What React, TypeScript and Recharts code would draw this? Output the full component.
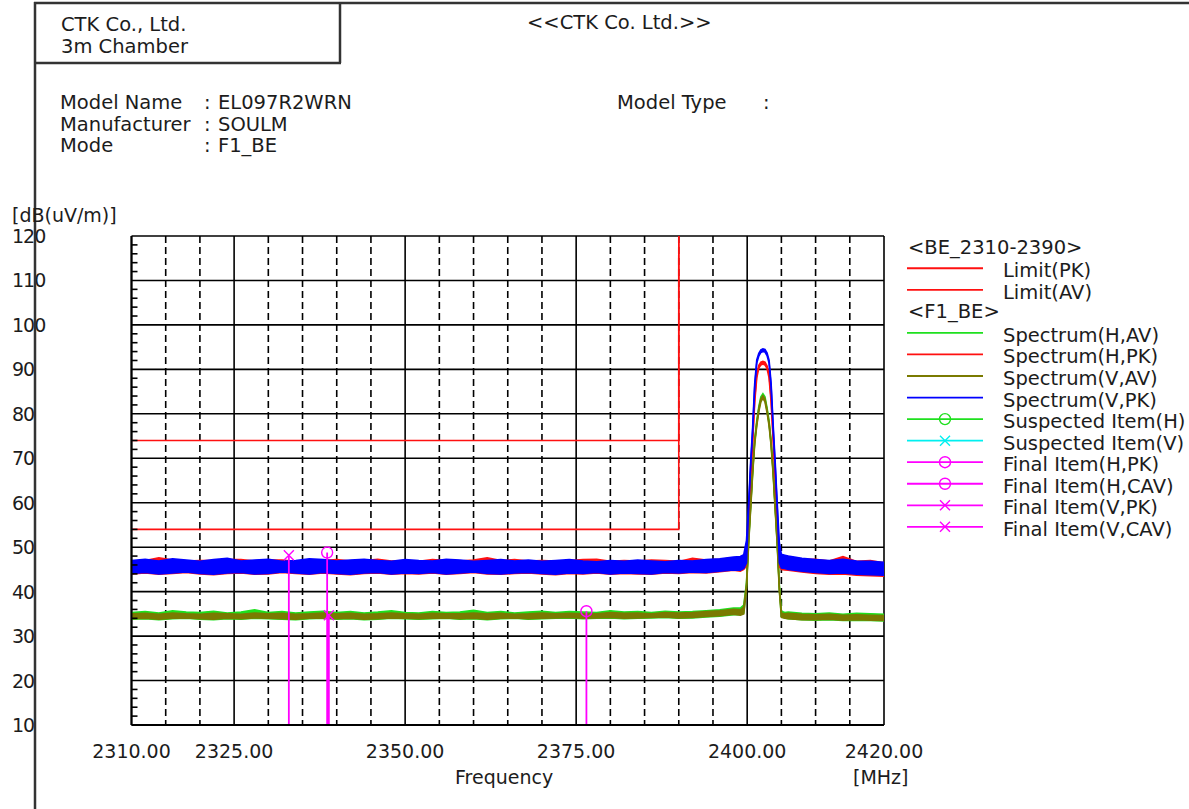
import React from "react";
import { ComposedChart, Area, Line, XAxis, YAxis, CartesianGrid } from "recharts";

// sweep points (MHz), denser around the 2402 MHz carrier
const freqMHz = [
  2310, 2312, 2314, 2316, 2318, 2320, 2322, 2324, 2326, 2328,
  2330, 2332, 2334, 2336, 2338, 2340, 2342, 2344, 2346, 2348,
  2350, 2352, 2354, 2356, 2358, 2360, 2362, 2364, 2366, 2368,
  2370, 2372, 2374, 2376, 2378, 2380, 2382, 2384, 2386, 2388,
  2390, 2392, 2394, 2396, 2398,
  2399, 2399.5, 2399.9, 2400.2, 2400.5, 2400.8, 2401.1, 2401.4, 2401.7, 2402,
  2402.3, 2402.6, 2402.9, 2403.2, 2403.5, 2403.8, 2404.1, 2404.4, 2404.7, 2405, 2405.5,
  2406, 2408, 2410, 2412, 2414, 2416, 2418, 2420,
];

// Spectrum(H,AV) - low / high edge of the trace
const hAvLo = [
  33.8, 33.9, 33.7, 33.9, 34.0, 33.8, 33.7, 33.9, 33.8, 34.0,
  33.9, 33.8, 33.7, 33.9, 34.0, 33.8, 33.9, 33.7, 33.8, 34.0,
  33.9, 33.8, 33.9, 34.0, 33.8, 33.9, 33.7, 33.9, 34.0, 33.8,
  33.9, 34.0, 34.1, 33.9, 34.0, 34.1, 33.9, 34.0, 34.1, 34.2,
  34.0, 34.1, 34.3, 34.5, 34.8,
  34.8, 35.2, 41.0, 50.8, 58.8, 66.8, 73.6, 77.7, 80.9, 83.1,
  83.9, 83.1, 80.7, 77.7, 73.2, 66.6, 58.6, 50.6, 40.6, 34.4, 34.1,
  33.9, 33.7, 33.6, 33.7, 33.5, 33.6, 33.5, 33.4,
];
const hAvHi = [
  35.3, 35.5, 35.2, 35.7, 35.4, 35.3, 35.6, 35.2, 35.4, 35.9,
  35.3, 35.5, 35.2, 35.4, 35.6, 35.3, 35.5, 35.2, 35.4, 35.7,
  35.3, 35.2, 35.5, 35.3, 35.4, 35.8, 35.3, 35.5, 35.2, 35.4,
  35.6, 35.3, 35.5, 35.4, 35.3, 35.7, 35.4, 35.5, 35.3, 35.6,
  35.4, 35.5, 35.7, 35.9, 36.3,
  36.3, 37.0, 42.0, 51.8, 59.7, 67.7, 74.3, 78.4, 81.6, 83.8,
  84.5, 83.8, 81.4, 78.4, 73.9, 67.4, 59.4, 51.4, 41.5, 35.6, 35.3,
  35.4, 35.1, 35.0, 35.2, 34.9, 35.1, 35.0, 34.9,
];

// Spectrum(H,PK)
const hPkLo = [
  44.0, 44.2, 43.9, 44.1, 44.3, 44.0, 43.8, 44.1, 44.2, 43.9,
  44.0, 44.3, 44.1, 43.9, 44.2, 44.0, 43.8, 44.1, 44.2, 43.9,
  44.1, 44.0, 44.2, 43.9, 44.1, 44.3, 44.0, 43.9, 44.1, 44.2,
  44.0, 43.8, 44.1, 44.0, 44.2, 43.9, 44.1, 44.0, 43.9, 44.2,
  44.1, 44.3, 44.2, 44.5, 44.8,
  44.6, 45.0, 45.8, 55.6, 65.5, 73.5, 82.6, 88.1, 90.3, 91.0,
  91.2, 91.0, 90.2, 88.1, 82.6, 74.0, 65.5, 56.0, 45.6, 45.0, 44.9,
  44.8, 44.4, 44.1, 43.9, 44.0, 43.7, 43.6, 43.5,
];
const hPkHi = [
  46.8, 47.0, 47.6, 47.1, 46.9, 47.0, 47.0, 47.2, 47.2, 46.9,
  47.1, 47.1, 46.8, 47.1, 47.0, 47.2, 46.9, 47.0, 47.3, 46.9,
  47.0, 46.8, 47.2, 47.0, 46.9, 47.1, 47.6, 47.0, 47.2, 46.9,
  47.0, 46.9, 47.0, 47.2, 47.3, 46.8, 47.0, 46.9, 47.1, 47.0,
  46.8, 47.5, 47.1, 47.3, 47.6,
  47.6, 48.1, 49.5, 56.6, 66.5, 74.5, 83.4, 88.9, 90.9, 91.6,
  91.8, 91.6, 90.8, 88.9, 83.4, 75.0, 66.5, 57.0, 49.2, 48.1, 48.0,
  47.9, 47.3, 47.3, 46.9, 47.9, 46.8, 47.0, 46.5,
];

// Spectrum(V,AV)
const vAvLo = [
  33.9, 34.0, 33.8, 34.0, 34.1, 33.9, 33.8, 34.0, 33.9, 34.1,
  34.0, 33.9, 33.8, 34.0, 34.1, 33.9, 34.0, 33.8, 33.9, 34.1,
  34.0, 33.9, 34.0, 34.1, 33.9, 34.0, 33.8, 34.0, 34.1, 33.9,
  34.0, 34.1, 34.2, 34.0, 34.1, 34.2, 34.0, 34.1, 34.2, 34.3,
  34.1, 34.2, 34.4, 34.6, 34.9,
  34.7, 35.0, 40.6, 50.4, 58.4, 66.4, 73.2, 77.3, 80.5, 82.7,
  83.5, 82.7, 80.3, 77.3, 72.8, 66.2, 58.2, 50.2, 40.2, 34.2, 34.0,
  33.9, 33.7, 33.7, 33.8, 33.6, 33.7, 33.6, 33.5,
];
const vAvHi = [
  35.0, 35.1, 34.9, 35.2, 35.0, 34.9, 35.1, 35.0, 34.9, 35.2,
  35.0, 35.1, 34.9, 35.0, 35.2, 35.0, 35.1, 34.9, 35.0, 35.2,
  35.0, 34.9, 35.1, 35.0, 35.0, 35.2, 35.0, 35.1, 34.9, 35.0,
  35.2, 35.0, 35.1, 35.0, 35.0, 35.3, 35.1, 35.2, 35.0, 35.3,
  35.2, 35.3, 35.5, 35.7, 36.0,
  35.9, 36.5, 41.6, 51.4, 59.3, 67.3, 73.9, 78.0, 81.2, 83.4,
  84.1, 83.4, 81.0, 78.0, 73.5, 67.0, 59.0, 51.0, 41.1, 35.2, 35.0,
  35.1, 34.9, 34.8, 34.9, 34.7, 34.8, 34.7, 34.6,
];

// Spectrum(V,PK)
const vPkLo = [
  44.1, 44.3, 44.0, 44.2, 44.4, 44.1, 43.9, 44.2, 44.3, 44.0,
  44.1, 44.4, 44.2, 44.0, 44.3, 44.1, 43.9, 44.2, 44.3, 44.0,
  44.2, 44.1, 44.3, 44.0, 44.2, 44.4, 44.1, 44.0, 44.2, 44.3,
  44.1, 43.9, 44.2, 44.1, 44.3, 44.0, 44.2, 44.1, 44.0, 44.3,
  44.2, 44.4, 44.3, 44.6, 44.9,
  44.8, 45.2, 46.5, 58.4, 68.0, 76.0, 86.0, 91.4, 93.0, 93.8,
  94.0, 93.9, 93.1, 91.4, 86.0, 76.5, 68.0, 58.4, 46.5, 45.3, 45.2,
  45.0, 44.6, 44.3, 44.1, 44.2, 43.9, 43.8, 43.7,
];
const vPkHi = [
  47.0, 47.3, 46.9, 47.4, 47.1, 46.8, 47.2, 47.5, 46.9, 47.1,
  47.3, 46.8, 47.0, 47.4, 47.2, 46.9, 47.1, 47.3, 47.0, 46.8,
  47.2, 47.0, 46.9, 47.3, 47.1, 46.8, 47.0, 47.2, 46.9, 47.1,
  46.8, 47.0, 47.2, 46.9, 46.7, 47.0, 46.8, 47.1, 46.9, 46.7,
  47.0, 46.9, 47.2, 47.4, 47.8,
  47.9, 48.3, 51.5, 59.6, 69.0, 77.0, 86.8, 92.1, 93.6, 94.4,
  94.6, 94.5, 93.7, 92.1, 86.8, 77.5, 69.0, 59.6, 51.0, 48.4, 48.2,
  48.0, 47.5, 47.2, 47.0, 47.3, 46.9, 46.8, 46.6,
];

// BE_2310-2390 limits
const limitFreq = [2310, 2390, 2390];
const limitPk = [74, 74, 120];
const limitAv = [54, 54, 120];

// final measurement items: H,PK / H,CAV / V,PK / V,CAV
const finalFreq = [2338.6, 2376.5, 2333.0, 2338.85];
const finalLevel = [48.8, 35.6, 48.2, 34.7];
const finalMark = ["circle", "circle", "cross", "cross"];

const xTicks = [2310, 2325, 2350, 2375, 2400, 2420];
const xSolid = [2310, 2325, 2350, 2375, 2400, 2420];
const xDashed = [2315, 2320, 2330, 2335, 2340, 2345, 2355, 2360, 2365, 2370, 2380, 2385, 2390, 2395, 2405, 2410, 2415];
const yTicks = [10, 20, 30, 40, 50, 60, 70, 80, 90, 100, 110, 120];
// every 2 dB: labelled at the tens, short inner tick otherwise
const yAllTicks = [
  10, 12, 14, 16, 18, 20, 22, 24, 26, 28, 30, 32, 34, 36, 38, 40, 42, 44, 46, 48,
  50, 52, 54, 56, 58, 60, 62, 64, 66, 68, 70, 72, 74, 76, 78, 80, 82, 84, 86, 88,
  90, 92, 94, 96, 98, 100, 102, 104, 106, 108, 110, 112, 114, 116, 118, 120,
];

const RED = "#ff1010";
const GREEN = "#1ee01e";
const OLIVE = "#7a7a00";
const BLUE = "#0000ff";
const CYAN = "#00f0f0";
const MAGENTA = "#ff00ff";
const INK = "#1c1c1c";
const FONT = '"DejaVu Sans", "Liberation Sans", sans-serif';

const legendRows = [
  { label: "<BE_2310-2390>" },
  { label: "Limit(PK)", color: RED },
  { label: "Limit(AV)", color: RED },
  { label: "<F1_BE>" },
  { label: "Spectrum(H,AV)", color: GREEN },
  { label: "Spectrum(H,PK)", color: RED },
  { label: "Spectrum(V,AV)", color: OLIVE },
  { label: "Spectrum(V,PK)", color: BLUE },
  { label: "Suspected Item(H)", color: GREEN, mark: "circle" },
  { label: "Suspected Item(V)", color: CYAN, mark: "cross" },
  { label: "Final Item(H,PK)", color: MAGENTA, mark: "circle" },
  { label: "Final Item(H,CAV)", color: MAGENTA, mark: "circle" },
  { label: "Final Item(V,PK)", color: MAGENTA, mark: "cross" },
  { label: "Final Item(V,CAV)", color: MAGENTA, mark: "cross" },
];

const rows = freqMHz.map((f, i) => ({
  f,
  hAv: [hAvLo[i], hAvHi[i]],
  hPk: [hPkLo[i], hPkHi[i]],
  vAv: [vAvLo[i], vAvHi[i]],
  vPk: [vPkLo[i], vPkHi[i]],
}));

const limitPkData = limitFreq.map((f, i) => ({ f, v: limitPk[i] }));
const limitAvData = limitFreq.map((f, i) => ({ f, v: limitAv[i] }));

function Marker({ cx, cy, shape, color }: { cx: number; cy: number; shape: string; color: string }) {
  if (shape === "circle") {
    return <circle cx={cx} cy={cy} r={5.5} fill="none" stroke={color} strokeWidth={1.4} />;
  }
  return (
    <path
      d={`M${cx - 5},${cy - 5}L${cx + 5},${cy + 5}M${cx + 5},${cy - 5}L${cx - 5},${cy + 5}`}
      stroke={color}
      strokeWidth={1.4}
    />
  );
}

function XTick({ x, y, payload }: any) {
  return (
    <text x={x} y={y + 33} textAnchor="middle" fontFamily={FONT} fontSize={19} fill={INK}>
      {Number(payload.value).toFixed(2)}
    </text>
  );
}

function YTick({ x, y, payload }: any) {
  if (payload.value % 10 !== 0) {
    return <line x1={x} y1={y} x2={x + 6} y2={y} stroke="#000" strokeWidth={1.6} />;
  }
  return (
    <text x={12} y={y + 7} fontFamily={FONT} fontSize={19} letterSpacing={-1} fill={INK}>
      {payload.value}
    </text>
  );
}

function Header() {
  const t = { fontFamily: FONT, fontSize: 19.5, fill: INK } as const;
  return (
    <svg width={1189} height={809} style={{ position: "absolute", left: 0, top: 0, pointerEvents: "none" }}>
      <line x1={34} y1={3} x2={1189} y2={3} stroke="#333" strokeWidth={2.5} />
      <line x1={35} y1={2} x2={35} y2={809} stroke="#333" strokeWidth={2.5} />
      <line x1={340} y1={2} x2={340} y2={63} stroke="#333" strokeWidth={2.5} />
      <line x1={34} y1={63} x2={341} y2={63} stroke="#333" strokeWidth={2.5} />

      <text x={61} y={31} {...t}>CTK Co., Ltd.</text>
      <text x={61} y={53} {...t}>3m Chamber</text>
      <text x={527} y={29} {...t}>{"<<CTK Co. Ltd.>>"}</text>

      <text x={60} y={109} {...t}>Model Name</text>
      <text x={204} y={109} {...t}>:</text>
      <text x={218} y={109} {...t}>EL097R2WRN</text>
      <text x={60} y={130.5} {...t}>Manufacturer</text>
      <text x={204} y={130.5} {...t}>:</text>
      <text x={218} y={130.5} {...t}>SOULM</text>
      <text x={60} y={152} {...t}>Mode</text>
      <text x={204} y={152} {...t}>:</text>
      <text x={218} y={152} {...t}>F1_BE</text>
      <text x={617} y={109} {...t}>Model Type</text>
      <text x={763} y={109} {...t}>:</text>

      <text x={12} y={222} {...t} fontSize={19}>[dB(uV/m)]</text>
      <text x={455} y={784} {...t} fontSize={19}>Frequency</text>
      <text x={853} y={784} {...t} fontSize={19}>[MHz]</text>

      {legendRows.map((r, i) => {
        const y = 246.7 + i * 21.55;
        if (!r.color) {
          return (
            <text key={r.label} x={908} y={y + 7} {...t}>
              {r.label}
            </text>
          );
        }
        return (
          <g key={r.label}>
            <line x1={907} y1={y} x2={983} y2={y} stroke={r.color} strokeWidth={1.8} />
            {r.mark ? <Marker cx={945} cy={y} shape={r.mark} color={r.color} /> : null}
            <text x={1003} y={y + 9} {...t}>
              {r.label}
            </text>
          </g>
        );
      })}
    </svg>
  );
}

export default function App() {
  return (
    <div
      style={{
        position: "fixed",
        left: 0,
        top: 0,
        width: 1189,
        height: 809,
        background: "#fff",
        overflow: "hidden",
      }}
    >
      <ComposedChart
        width={1189}
        height={809}
        data={rows}
        margin={{ top: 236, right: 305, bottom: 0, left: 12 }}
      >
        <CartesianGrid
          horizontal={false}
          verticalValues={xDashed}
          stroke="#000"
          strokeWidth={1.6}
          strokeDasharray="7 4"
        />
        <CartesianGrid
          horizontalValues={yTicks}
          verticalValues={xSolid}
          stroke="#000"
          strokeWidth={1.6}
        />
        <XAxis
          dataKey="f"
          type="number"
          domain={[2310, 2420]}
          allowDataOverflow
          ticks={xTicks}
          interval={0}
          tick={<XTick />}
          tickLine={false}
          tickSize={0}
          tickMargin={0}
          height={84}
          axisLine={{ stroke: "#000", strokeWidth: 2 }}
        />
        <YAxis
          type="number"
          domain={[10, 120]}
          allowDataOverflow
          ticks={yAllTicks}
          interval={0}
          tick={<YTick />}
          tickLine={false}
          tickSize={0}
          tickMargin={0}
          width={119.5}
          axisLine={{ stroke: "#000", strokeWidth: 2 }}
        />

        <Area type="linear" dataKey="hAv" stroke={GREEN} fill={GREEN} fillOpacity={1} strokeWidth={1.6} dot={false} activeDot={false} isAnimationActive={false} />
        <Area type="linear" dataKey="hPk" stroke={RED} fill={RED} fillOpacity={1} strokeWidth={1.6} dot={false} activeDot={false} isAnimationActive={false} />
        <Area type="linear" dataKey="vAv" stroke={OLIVE} fill={OLIVE} fillOpacity={1} strokeWidth={1.6} dot={false} activeDot={false} isAnimationActive={false} />
        <Area type="linear" dataKey="vPk" stroke={BLUE} fill={BLUE} fillOpacity={1} strokeWidth={1.6} dot={false} activeDot={false} isAnimationActive={false} />

        <Line data={limitPkData} dataKey="v" type="linear" stroke={RED} strokeWidth={1.6} dot={false} activeDot={false} isAnimationActive={false} />
        <Line data={limitAvData} dataKey="v" type="linear" stroke={RED} strokeWidth={1.6} dot={false} activeDot={false} isAnimationActive={false} />

        {finalFreq.map((f, i) => (
          <Line
            key={`final-${i}`}
            data={[
              { f, v: 10 },
              { f, v: finalLevel[i] },
            ]}
            dataKey="v"
            type="linear"
            stroke={MAGENTA}
            strokeWidth={1.8}
            activeDot={false}
            isAnimationActive={false}
            dot={(p: any) =>
              p.index === 1 ? (
                <Marker key={`fm-${i}`} cx={p.cx} cy={p.cy} shape={finalMark[i]} color={MAGENTA} />
              ) : (
                <g key={`fm0-${i}`} />
              )
            }
          />
        ))}
      </ComposedChart>
      <Header />
    </div>
  );
}
